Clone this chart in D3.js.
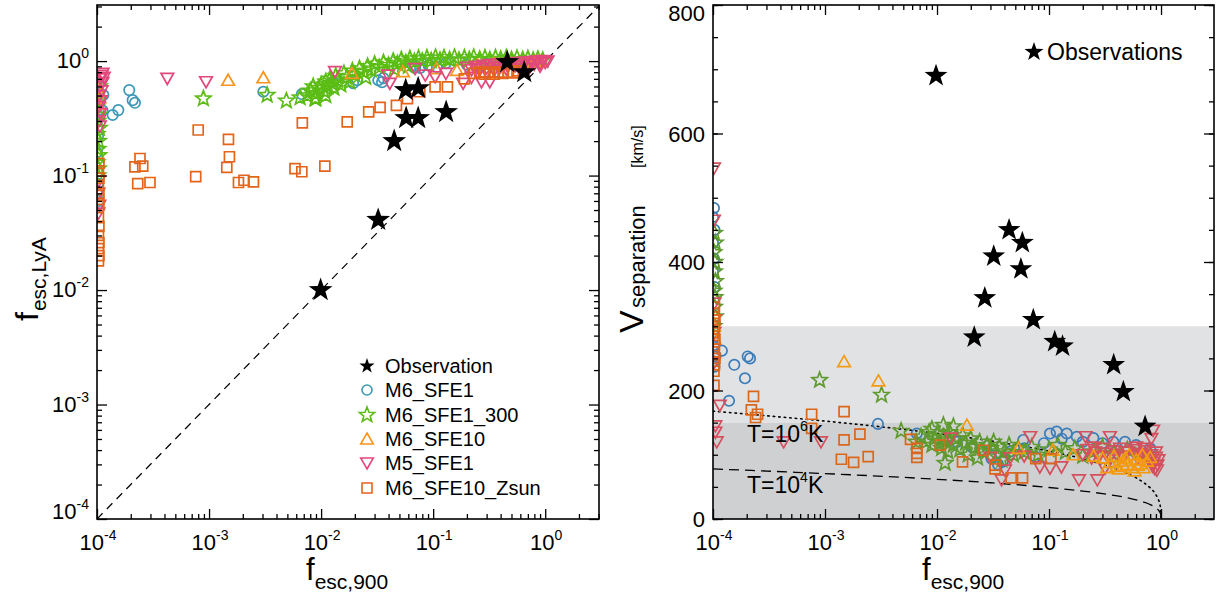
<!DOCTYPE html>
<html><head><meta charset="utf-8">
<script src="https://cdn.jsdelivr.net/npm/d3@7"></script>
<style>
body{margin:0;background:#fff}
svg{display:block}
text{font-family:"Liberation Sans",Arial,Helvetica,sans-serif;fill:#000}
</style>
</head><body>
<svg id="c" width="1219" height="598"></svg>
<script>
// ---------------- DATA ----------------
const seriesNames = ["Observation","M6_SFE1","M6_SFE1_300","M6_SFE10","M5_SFE1","M6_SFE10_Zsun"];
const xTickExps = [-4,-3,-2,-1,0];
const yTickExpsLeft = [-4,-3,-2,-1,0];
const yTicksRight = [0,200,400,600,800];
const tempLabels = ["6","4"];

// Left panel: [f_esc,900 , f_esc,LyA]
const L_obs = [[0.0099,0.010],[0.0323,0.041],[0.0449,0.20],[0.0569,0.558],[0.0735,0.58],[0.0574,0.318],[0.0735,0.318],[0.1306,0.359],[0.458,0.98],[0.65,0.80]];
const L_sfe1 = [[1.02e-4,0.52],[1.05e-4,0.47],[1.03e-4,0.37],[1.0e-4,0.30],[1.02e-4,0.22],[1.0e-4,0.16],[1.02e-4,0.085],[1.0e-4,0.07],[1.03e-4,0.06],
 [1.14e-4,0.505],[1.12e-4,0.37],[1.38e-4,0.338],[1.55e-4,0.373],[1.94e-4,0.558],[2.08e-4,0.456],[2.18e-4,0.432],
 [3.05e-3,0.54],[6.73e-3,0.515],[0.0128,0.66],[0.0193,0.64],[0.021,0.68],[0.0324,0.68],[0.035,0.655],[0.036,0.71],
 [0.066,0.92],[0.0692,0.89],[0.0765,0.87],[0.091,0.92],[0.0937,0.92],[0.108,0.89],[0.13,0.96],[0.2,0.93],[0.3,0.95],[0.45,0.97],[0.6,0.95],[0.8,0.98]];
const L_sfe1_300 = [[1.02e-4,0.45],[1.0e-4,0.40],[1.04e-4,0.34],[1.02e-4,0.30],[1.05e-4,0.26],[1.0e-4,0.23],[1.03e-4,0.20],[1.02e-4,0.17],[1.04e-4,0.15],[1.0e-4,0.13],[1.03e-4,0.115],[1.02e-4,0.10],[1.05e-4,0.6],
 [8.9e-4,0.47],[3.3e-3,0.505],[4.9e-3,0.45],[8.8e-3,0.47],[0.0065,0.48],[0.009,0.47],[0.011,0.5],
 [0.0075,0.50],[0.008,0.55],[0.0085,0.60],[0.009,0.52],[0.0095,0.58],[0.010,0.62],[0.0105,0.55],[0.011,0.66],[0.0115,0.60],[0.012,0.70],[0.0125,0.64],[0.013,0.58],[0.0135,0.74],[0.014,0.68],[0.015,0.62],[0.016,0.78],[0.017,0.72],[0.018,0.66],[0.019,0.82],[0.02,0.76],[0.022,0.86],[0.024,0.80],[0.025,0.72],[0.026,0.90],[0.028,0.84],[0.03,0.94],[0.033,0.88],[0.036,0.97],[0.04,0.92],[0.044,1.0],[0.045,0.85],[0.048,0.95],[0.052,1.03],[0.057,0.97],[0.06,0.9],[0.062,1.05],[0.068,0.99],[0.074,1.06],[0.08,1.0],[0.088,1.07],[0.096,1.01],[0.105,1.08],[0.115,1.02],[0.125,1.07],[0.14,1.03],[0.155,1.08],[0.17,1.02],[0.19,1.07],[0.21,1.03],[0.23,1.08],[0.26,1.04],[0.29,1.07],[0.32,1.03],[0.36,1.07],[0.4,1.04],[0.45,1.07],[0.5,1.03],[0.56,1.06],[0.63,1.03],[0.7,1.05],[0.78,1.02],[0.86,1.04],[0.95,1.02]];
const L_sfe10 = [[1.03e-4,0.55],[1.05e-4,0.48],[1.02e-4,0.42],
 [1.48e-3,0.68],[3.05e-3,0.715],[0.0188,0.78],[0.0537,0.81],[0.107,0.86],[0.163,0.83],[0.25,0.92],[0.35,0.95],[0.5,0.95],[0.6,0.93],[0.7,0.97],[0.8,0.98],[0.9,1.0]];
const L_m5sfe1 = [[1.1e-4,0.75],[1.08e-4,0.70],[1.12e-4,0.65],[1.06e-4,0.60],[1.1e-4,0.55],[1.05e-4,0.50],[1.08e-4,0.45],[1.04e-4,0.40],[1.07e-4,0.35],[1.04e-4,0.30],[1.06e-4,0.27],[1.04e-4,0.09],[1.03e-4,0.07],[1.05e-4,0.055],[1.03e-4,0.047],[1.15e-4,0.72],[1.12e-4,0.78],
 [4.24e-4,0.705],[9.4e-4,0.66],[0.0133,0.81],[0.0395,0.755],[0.041,0.64],[0.069,0.86],[0.085,0.755],[0.104,0.73],[0.13,0.78],[0.185,0.64],[0.27,0.66],[0.32,0.66],
 [0.2,0.88],[0.22,0.84],[0.24,0.9],[0.26,0.86],[0.28,0.92],[0.3,0.87],[0.32,0.93],[0.34,0.88],[0.37,0.94],[0.4,0.89],[0.43,0.95],[0.46,0.9],[0.5,0.96],[0.54,0.91],[0.58,0.97],[0.62,0.92],[0.66,0.98],[0.7,0.93],[0.75,0.99],[0.8,0.94],[0.85,1.0],[0.9,0.95],[0.95,1.01],[1.0,0.97],[1.05,1.0],[0.72,0.87],[0.6,0.86],[0.9,0.9],[0.45,0.85],[0.35,0.83],[0.3,0.8],[0.25,0.78],[0.22,0.72]];
const L_zsun = [[1.04e-4,0.128],[1.03e-4,0.11],[1.04e-4,0.095],[1.03e-4,0.082],[1.04e-4,0.07],[1.03e-4,0.062],[1.04e-4,0.055],[1.03e-4,0.043],[1.04e-4,0.036],[1.03e-4,0.030],[1.04e-4,0.026],[1.03e-4,0.023],[1.04e-4,0.020],[1.03e-4,0.018],
 [8.0e-4,0.25],[1.49e-3,0.207],[1.52e-3,0.146],[1.44e-3,0.118],[2.42e-4,0.141],[2.18e-4,0.119],[2.56e-4,0.121],[2.31e-4,0.0852],[2.97e-4,0.087],[7.6e-4,0.098],[1.83e-3,0.087],[2.05e-3,0.091],[2.49e-3,0.088],[5.85e-3,0.115],[6.73e-3,0.108],[0.0108,0.121],
 [6.8e-3,0.289],[0.0171,0.295],[0.0266,0.36],[0.0336,0.394],[0.047,0.41],[0.059,0.47],[0.076,0.54],[0.104,0.596],[0.134,0.596],[0.19,0.70],
 [0.23,0.78],[0.26,0.8],[0.29,0.77],[0.32,0.8],[0.35,0.77],[0.38,0.8],[0.42,0.78],[0.47,0.8],[0.52,0.79],[0.56,0.82]];

// Right panel: [f_esc,900 , V_separation km/s]
const R_obs = [[0.0098,690],[0.044,450],[0.0578,430],[0.0321,409],[0.0561,389],[0.0267,344],[0.0215,283],[0.0724,310],[0.1125,276],[0.132,269],[0.378,240],[0.461,198],[0.721,144]];
const R_sfe1 = [[1.02e-4,484],[1.0e-4,470],[1.03e-4,450],[1.0e-4,430],[1.02e-4,405],[1.0e-4,385],[1.03e-4,361],[1.02e-4,268],[1.05e-4,255],[1.0e-4,280],[1.03e-4,237],[1.02e-4,245],
 [1.55e-4,240],[2.04e-4,253],[2.14e-4,250],[1.93e-4,219],[1.39e-4,184],[1.2e-4,262],[2.97e-3,148],[6.6e-3,133],
 [0.015,120],[0.0204,112],[0.025,108],[0.03,100],[0.0307,94],[0.035,85],[0.0386,89],[0.045,105],[0.0589,123],[0.06,110],[0.0755,97],[0.09,118],[0.102,133],[0.117,136],[0.13,125],[0.144,133],[0.177,128],[0.2,120],[0.249,126],[0.3,118],[0.375,120],[0.477,120],[0.6,115],[0.8,110]];
const R_sfe1_300 = [[1.03e-4,445],[1.05e-4,430],[1.02e-4,415],[1.04e-4,400],[1.03e-4,385],[1.05e-4,370],[1.02e-4,355],[1.04e-4,345],[1.03e-4,330],[1.05e-4,315],[1.02e-4,300],
 [8.95e-4,216],[3.2e-3,193],[4.78e-3,137],[0.0114,146],[0.014,144],[0.0118,87],
 [0.0065,120],[0.0072,128],[0.008,120],[0.0085,135],[0.009,115],[0.009,140],[0.0095,125],[0.01,132],[0.0105,118],[0.011,110],[0.0115,128],[0.012,122],[0.0125,105],[0.013,135],[0.014,115],[0.015,125],[0.016,108],[0.017,130],[0.018,118],[0.019,100],[0.02,125],[0.022,112],[0.023,95],[0.024,120],[0.026,105],[0.028,115],[0.03,110],[0.032,120],[0.034,98],[0.036,112],[0.038,92],[0.04,105],[0.044,115],[0.048,100],[0.053,110],[0.06,104],[0.07,112],[0.08,100],[0.1,108],[0.12,115],[0.14,104],[0.17,110],[0.2,98],[0.25,105],[0.3,112],[0.38,102],[0.5,108],[0.65,104],[0.8,100]];
const R_sfe10 = [[1.02e-4,300],[1.03e-4,280],
 [1.48e-3,245],[3.0e-3,215],[0.0185,146],[0.0534,110],[0.108,107],[0.164,100],[0.25,98],
 [0.3,95],[0.33,80],[0.35,88],[0.38,98],[0.4,82],[0.42,78],[0.45,90],[0.46,83],[0.48,95],[0.5,85],[0.52,100],[0.55,80],[0.58,75],[0.6,92],[0.62,84],[0.65,86],[0.68,100],[0.7,80],[0.75,90],[0.8,96]];
const R_m5sfe1 = [[1.02e-4,546],[1.02e-4,465],[1.03e-4,336],[1.02e-4,243],[1.04e-4,310],[1.03e-4,290],[1.08e-4,120],[1.15e-4,177],[1.05e-4,135],[1.05e-4,145],
 [4.27e-4,120],[9.2e-4,120],[0.0133,126],[0.03,96],[0.0377,61],[0.0404,76],[0.045,95],[0.06,98],[0.068,128],[0.0828,81],[0.102,79],[0.129,81],[0.185,61],[0.212,128],[0.27,61],[0.316,79],[0.35,128],[0.82,125],[0.85,138],
 [0.2,100],[0.22,108],[0.24,95],[0.25,112],[0.26,104],[0.28,98],[0.3,110],[0.32,102],[0.35,96],[0.38,106],[0.4,100],[0.43,110],[0.46,96],[0.5,104],[0.54,98],[0.58,108],[0.6,112],[0.62,94],[0.66,102],[0.7,98],[0.7,110],[0.74,106],[0.78,92],[0.82,100],[0.84,82],[0.86,88],[0.88,78],[0.9,96],[0.9,104],[0.92,76],[0.93,84],[0.95,92]];
const R_zsun = [[1.03e-4,330],[1.02e-4,320],[1.04e-4,310],[1.03e-4,300],[1.02e-4,290],[1.04e-4,280],[1.03e-4,270],[1.02e-4,260],[1.04e-4,250],[1.03e-4,240],[1.02e-4,230],[1.02e-4,208],
 [2.3e-4,191],[2.2e-4,170],[2.5e-4,163],[2.4e-4,158],[7.6e-4,163],[7.6e-4,141],[1.48e-3,167],[1.48e-3,123],[2.05e-3,132],[1.4e-3,93],[1.8e-3,88],[2.43e-3,97],[5.8e-3,124],[6.6e-3,110],[6.6e-3,102],[6.6e-3,96],[0.0107,115],[0.0169,89],[0.0258,107],[0.033,84],[0.033,78],[0.0459,64],[0.058,64],[0.0762,94],[0.104,94]];

// model curves: T=1e6 K (dotted) and T=1e4 K (dashed)
const curveF = [1e-4,3e-4,1e-3,3e-3,1e-2,3e-2,0.1,0.2,0.3,0.5,0.7,0.8,0.9,0.95,0.98,0.99,0.999,1];
const curveHot = [167.8,160.7,152.4,143.9,133.1,121.5,105.6,93.8,85.1,70.8,56.7,48.5,37.8,29.7,21.8,17.3,8.0,0];
const curveCold = [77.9,74.6,70.7,66.8,61.8,56.4,49.0,43.5,39.5,32.9,26.3,22.5,17.5,13.8,10.1,8.0,3.7,0];
const bandLight = [150,300];
const bandDark = [0,150];

// ---------------- DRAW ----------------
const svg = d3.select("#c");

const colorsL = {sfe1:"#3d98b8", s300:"#5bbd14", sfe10:"#f7941d", m5:"#e2487c", zsun:"#e3641b"};
const colorsR = {sfe1:"#3a7cb8", s300:"#5e9a2e", sfe10:"#f39a12", m5:"#d4505e", zsun:"#d9671c"};

function starPath(ro, ri){
  const p=[];
  for(let i=0;i<10;i++){const r=i%2?ri:ro; const a=-Math.PI/2+i*Math.PI/5; p.push([ (r*Math.cos(a)).toFixed(2),(r*Math.sin(a)).toFixed(2)]);}
  return "M"+p.join("L")+"Z";
}
const shapes = {
  circle: null,
  star: starPath(8,3.4),
  up: "M0,-6L6.3,5L-6.3,5Z",
  down: "M0,6L6.3,-5L-6.3,-5Z",
  square: "M-5,-5H5V5H-5Z"
};

function drawMarkers(g, data, x, y, shape, color){
  const sel = g.append("g");
  if(shape==="circle"){
    sel.selectAll("circle").data(data).join("circle")
      .attr("cx",d=>x(d[0])).attr("cy",d=>y(d[1])).attr("r",5.2)
      .attr("fill","none").attr("stroke",color).attr("stroke-width",1.7);
  } else {
    sel.selectAll("path").data(data).join("path")
      .attr("transform",d=>`translate(${x(d[0])},${y(d[1])})`)
      .attr("d",shapes[shape]).attr("fill","none").attr("stroke",color).attr("stroke-width",1.7).attr("stroke-linejoin","miter");
  }
}
function drawObs(g, data, x, y, r){
  g.append("g").selectAll("path").data(data).join("path")
    .attr("transform",d=>`translate(${x(d[0])},${y(d[1])})`)
    .attr("d",starPath(r, r*0.4)).attr("fill","#000");
}

function supLabel(g, x, y, base, sup, anchor, size, supSize){
  const t = g.append("text").attr("x",x).attr("y",y).attr("text-anchor",anchor).style("font-size",size+"px");
  t.append("tspan").text(base);
  t.append("tspan").attr("dy",-size*0.45).style("font-size",supSize+"px").text(sup);
  return t;
}

function logMinor(domainMax){
  const v=[];
  for(let e=-4;e<=0;e++){for(let k=2;k<=9;k++){const val=k*Math.pow(10,e); if(val<=domainMax) v.push(val);}}
  return v;
}

function frameAndLogX(g, x, X0, X1, Y0, Y1){
  const maj = xTickExps.map(e=>Math.pow(10,e));
  const minor = logMinor(x.domain()[1]);
  g.append("g").attr("transform",`translate(0,${Y1})`).call(d3.axisBottom(x).tickValues(maj).tickSize(-10).tickFormat(""));
  g.append("g").attr("transform",`translate(0,${Y1})`).call(d3.axisBottom(x).tickValues(minor).tickSize(-5).tickFormat(""));
  g.append("g").attr("transform",`translate(0,${Y0})`).call(d3.axisTop(x).tickValues(maj).tickSize(-10).tickFormat(""));
  g.append("g").attr("transform",`translate(0,${Y0})`).call(d3.axisTop(x).tickValues(minor).tickSize(-5).tickFormat(""));
  xTickExps.forEach(e=>{
    supLabel(g, x(Math.pow(10,e))+1, Y1+31, "10", String(e), "middle", 22, 14);
  });
}

// ---------- LEFT PANEL ----------
const LX0=97, LX1=599, LY0=5, LY1=519;
const xL = d3.scaleLog().domain([1e-4, Math.pow(10,0.48)]).range([LX0,LX1]);
const yL = d3.scaleLog().domain([1e-4, Math.pow(10,0.49)]).range([LY1,LY0]);
const gL = svg.append("g");
svg.append("defs").html(`<clipPath id="clipL"><rect x="${LX0}" y="${LY0}" width="${LX1-LX0}" height="${LY1-LY0}"/></clipPath>
<clipPath id="clipR"><rect x="713" y="5" width="501" height="514"/></clipPath>`);
const pL = gL.append("g").attr("clip-path","url(#clipL)");
// 1:1 line
pL.append("path").datum(xL.domain())
  .attr("d",d3.line().x(d=>xL(d)).y(d=>yL(d)))
  .attr("stroke","#000").attr("stroke-width",1.2).attr("stroke-dasharray","8,6").attr("fill","none");
drawMarkers(pL, L_sfe1, xL, yL, "circle", colorsL.sfe1);
drawMarkers(pL, L_sfe1_300, xL, yL, "star", colorsL.s300);
drawMarkers(pL, L_sfe10, xL, yL, "up", colorsL.sfe10);
drawMarkers(pL, L_m5sfe1, xL, yL, "down", colorsL.m5);
drawMarkers(pL, L_zsun, xL, yL, "square", colorsL.zsun);
drawObs(pL, L_obs, xL, yL, 12.5);

// axes
const axL = gL.append("g");
frameAndLogX(axL, xL, LX0, LX1, LY0, LY1);
{
  const maj = yTickExpsLeft.map(e=>Math.pow(10,e));
  const minor = logMinor(yL.domain()[1]);
  axL.append("g").attr("transform",`translate(${LX0},0)`).call(d3.axisLeft(yL).tickValues(maj).tickSize(-10).tickFormat(""));
  axL.append("g").attr("transform",`translate(${LX0},0)`).call(d3.axisLeft(yL).tickValues(minor).tickSize(-5).tickFormat(""));
  axL.append("g").attr("transform",`translate(${LX1},0)`).call(d3.axisRight(yL).tickValues(maj).tickSize(-10).tickFormat(""));
  axL.append("g").attr("transform",`translate(${LX1},0)`).call(d3.axisRight(yL).tickValues(minor).tickSize(-5).tickFormat(""));
  yTickExpsLeft.forEach(e=>{
    const yy = yL(Math.pow(10,e)) + (e===-4 ? 0 : 7);
    supLabel(axL, LX0-8, yy, "10", String(e), "end", 22, 14);
  });
}
axL.append("rect").attr("x",LX0).attr("y",LY0).attr("width",LX1-LX0).attr("height",LY1-LY0).attr("fill","none").attr("stroke","#000").attr("stroke-width",1.6);

// x title
function xTitle(g, x0){
  const t = g.append("text").attr("x",x0).attr("y",580).style("font-size","31px");
  t.append("tspan").text("f");
  t.append("tspan").attr("dy",9).style("font-size","21px").text("esc,900");
}
xTitle(gL, 306);
// y title left
{
  const t = gL.append("text").attr("transform","translate(38,321) rotate(-90)").style("font-size","32px");
  t.append("tspan").text("f");
  t.append("tspan").attr("dy",8).attr("dx",1).style("font-size","21px").text("esc,LyA");
}

// legend left
{
  const lg = gL.append("g");
  const rows = [366,390,415,439,463,488];
  const lx = 367, tx = 385;
  lg.append("path").attr("transform",`translate(${lx},${rows[0]})`).attr("d",starPath(8,3.2)).attr("fill","#000");
  const legShapes = [["circle",colorsL.sfe1],["star",colorsL.s300],["up",colorsL.sfe10],["down",colorsL.m5],["square",colorsL.zsun]];
  legShapes.forEach((s,i)=>{
    const yy = rows[i+1];
    if(s[0]==="circle") lg.append("circle").attr("cx",lx).attr("cy",yy).attr("r",5).attr("fill","none").attr("stroke",s[1]).attr("stroke-width",1.6);
    else lg.append("path").attr("transform",`translate(${lx},${yy})`).attr("d",shapes[s[0]]).attr("fill","none").attr("stroke",s[1]).attr("stroke-width",1.6);
  });
  seriesNames.forEach((n,i)=>{
    lg.append("text").attr("x",tx).attr("y",rows[i]+7).style("font-size","20px").text(n);
  });
}

// ---------- RIGHT PANEL ----------
const RX0=713, RX1=1214, RY0=5, RY1=519;
const xR = d3.scaleLog().domain([1e-4, Math.pow(10,0.473)]).range([RX0,RX1]);
const yR = d3.scaleLinear().domain([0,800]).range([RY1,RY0]);
const gR = svg.append("g");
const pR = gR.append("g").attr("clip-path","url(#clipR)");
pR.append("rect").attr("x",RX0).attr("width",RX1-RX0).attr("y",yR(bandLight[1])).attr("height",yR(bandLight[0])-yR(bandLight[1])).attr("fill","#e1e2e4");
pR.append("rect").attr("x",RX0).attr("width",RX1-RX0).attr("y",yR(bandDark[1])).attr("height",yR(bandDark[0])-yR(bandDark[1])).attr("fill","#cfd0d2");
const cline = d3.line().x((d,i)=>xR(curveF[i])).y(d=>yR(d)).curve(d3.curveMonotoneX);
pR.append("path").datum(curveHot).attr("d",cline).attr("fill","none").attr("stroke","#000").attr("stroke-width",1.6).attr("stroke-dasharray","1.5,4").attr("stroke-linecap","round");
pR.append("path").datum(curveCold).attr("d",cline).attr("fill","none").attr("stroke","#000").attr("stroke-width",1.3).attr("stroke-dasharray","10,6");

// temperature labels
function tLabel(y, sup){
  const t = gR.append("text").attr("x",747).attr("y",y).style("font-size","23px");
  t.append("tspan").text("T=10");
  t.append("tspan").attr("dy",-11).style("font-size","14px").text(sup);
  t.append("tspan").attr("dy",11).text("K");
}
tLabel(442, tempLabels[0]);
tLabel(493, tempLabels[1]);

drawMarkers(pR, R_sfe1, xR, yR, "circle", colorsR.sfe1);
drawMarkers(pR, R_sfe1_300, xR, yR, "star", colorsR.s300);
drawMarkers(pR, R_m5sfe1, xR, yR, "down", colorsR.m5);
drawMarkers(pR, R_sfe10, xR, yR, "up", colorsR.sfe10);
drawMarkers(pR, R_zsun, xR, yR, "square", colorsR.zsun);
drawObs(pR, R_obs, xR, yR, 12);

const axR = gR.append("g");
frameAndLogX(axR, xR, RX0, RX1, RY0, RY1);
{
  const minor = d3.range(0,801,50);
  axR.append("g").attr("transform",`translate(${RX0},0)`).call(d3.axisLeft(yR).tickValues(yTicksRight).tickSize(-10).tickFormat(""));
  axR.append("g").attr("transform",`translate(${RX0},0)`).call(d3.axisLeft(yR).tickValues(minor).tickSize(-5).tickFormat(""));
  axR.append("g").attr("transform",`translate(${RX1},0)`).call(d3.axisRight(yR).tickValues(yTicksRight).tickSize(-10).tickFormat(""));
  axR.append("g").attr("transform",`translate(${RX1},0)`).call(d3.axisRight(yR).tickValues(minor).tickSize(-5).tickFormat(""));
  yTicksRight.forEach(v=>{
    axR.append("text").attr("x",RX0-8).attr("y",Math.max(yR(v)+8, 21)).attr("text-anchor","end").style("font-size","22px").text(v);
  });
}
axR.append("rect").attr("x",RX0).attr("y",RY0).attr("width",RX1-RX0).attr("height",RY1-RY0).attr("fill","none").attr("stroke","#000").attr("stroke-width",1.6);
xTitle(gR, 922);
// y title right
gR.append("text").attr("transform","translate(643,333) rotate(-90)").style("font-size","34px").text("V");
gR.append("text").attr("transform","translate(645,308) rotate(-90)").style("font-size","22px").text("separation");
gR.append("text").attr("transform","translate(643,168) rotate(-90)").style("font-size","16px").text("[km/s]");
// legend right
gR.append("path").attr("transform","translate(1034,52)").attr("d",starPath(10,4)).attr("fill","#000");
gR.append("text").attr("x",1047).attr("y",60).style("font-size","23px").text("Observations");

// axis styling
svg.selectAll(".tick line").attr("stroke","#000").attr("stroke-width",1.3);
svg.selectAll(".domain").remove();
</script>
</body></html>
